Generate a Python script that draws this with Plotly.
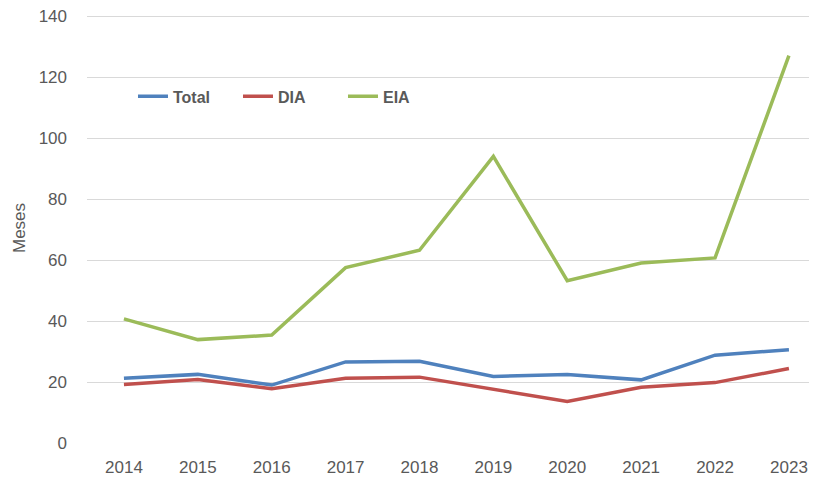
import plotly.graph_objects as go

years = ["2014", "2015", "2016", "2017", "2018", "2019", "2020", "2021", "2022", "2023"]
total = [21.2, 22.5, 19.0, 26.6, 26.8, 21.8, 22.5, 20.7, 28.8, 30.6]
dia = [19.2, 20.8, 17.8, 21.2, 21.6, 17.7, 13.6, 18.3, 19.8, 24.4]
eia = [40.7, 33.9, 35.4, 57.5, 63.2, 94.0, 53.2, 59.0, 60.7, 127.0]
y_ticks = [0, 20, 40, 60, 80, 100, 120, 140]

fig = go.Figure()
for name, vals, col in [("Total", total, "#4F81BD"), ("DIA", dia, "#C0504D"), ("EIA", eia, "#9BBB59")]:
    fig.add_trace(go.Scatter(x=list(range(len(years))), y=vals, name=name, mode="lines",
                             line=dict(color=col, width=3.5)))

fig.update_layout(
    width=809, height=470,
    margin=dict(l=79, r=0, t=5, b=35),
    paper_bgcolor="white", plot_bgcolor="white",
    font=dict(family="Liberation Sans, Arial, sans-serif", color="#595959", size=17),
    showlegend=True,
    legend=dict(orientation="h", x=0.063, y=0.806, xanchor="left", yanchor="middle",
                font=dict(size=16, color="#595959", family="Liberation Sans, Arial, sans-serif", weight="bold"),
                bgcolor="rgba(0,0,0,0)", itemwidth=30, entrywidth=60, tracegroupgap=0),
    xaxis=dict(tickmode="array", tickvals=list(range(len(years))), ticktext=years,
               range=[-0.5, 9.38], showgrid=False, zeroline=False, showline=False,
               ticks="", ticklabelstandoff=12, automargin=False, ticklabeloverflow="allow"),
    yaxis=dict(range=[0, 141], tickvals=y_ticks, showgrid=True, gridcolor="#D9D9D9", gridwidth=1,
               zeroline=False, showline=False, ticks="", ticklabelstandoff=19, automargin=False,
               ticklabeloverflow="allow",
               title=dict(text="Meses", standoff=8, font=dict(size=17, color="#595959"))),
)
fig.write_html("out.html")
